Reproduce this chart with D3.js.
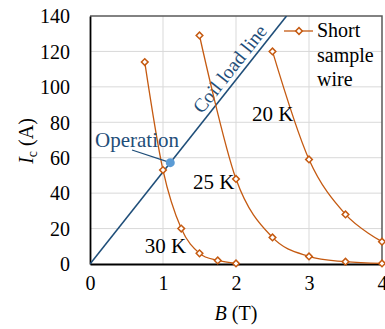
<!DOCTYPE html>
<html><head><meta charset="utf-8">
<script src="https://cdn.jsdelivr.net/npm/d3@7"></script>
<style>
html,body{margin:0;padding:0;background:#fff;}
svg text{font-family:"Liberation Serif","Tinos","Times New Roman","DejaVu Serif","Noto Serif",serif !important;}
</style></head>
<body><svg id="c" width="385" height="329"></svg>
<script>
// Data
const b30 = [0.75, 1.0, 1.25, 1.5, 1.75, 2.0];
const ic30 = [114, 53, 20, 6, 2, 0.3];
const b25 = [1.5, 2.0, 2.5, 3.0, 3.5, 4.0];
const ic25 = [129, 48, 15, 4.3, 1.3, 0.3];
const b20 = [2.5, 3.0, 3.5, 4.0];
const ic20 = [120, 59, 28, 12.6];
const loadSlope = 52;           // A per T
const operationB = 1.1, operationI = 57.2;
const xTicks = [0, 1, 2, 3, 4];
const yTicks = [0, 20, 40, 60, 80, 100, 120, 140];
const tempLabels = [{t:"20 K", b:2.22, i:81}, {t:"25 K", b:1.41, i:42.5}, {t:"30 K", b:0.75, i:6}];

const FONT = '"Liberation Serif","Tinos","Times New Roman","DejaVu Serif","Noto Serif",serif';
const svg = d3.select("#c");
const L = 90, R = 382, T = 16, B = 264;
const x = d3.scaleLinear().domain([0, 4]).range([L, R]);
const y = d3.scaleLinear().domain([0, 140]).range([B, T]);
const orange = "#C55A11", navy = "#1F4E79";

// gridlines
svg.append("g").selectAll("line").data(xTicks.slice(1, -1)).join("line")
  .attr("x1", d => x(d)).attr("x2", d => x(d)).attr("y1", T).attr("y2", B)
  .attr("stroke", "#D9D9D9").attr("stroke-width", 1);
svg.append("g").selectAll("line").data(yTicks.slice(1, -1)).join("line")
  .attr("x1", L).attr("x2", R).attr("y1", d => y(d)).attr("y2", d => y(d))
  .attr("stroke", "#D9D9D9").attr("stroke-width", 1);

// border top/right
svg.append("path").attr("d", `M${L},${T}H${R}V${B}`).attr("fill", "none")
  .attr("stroke", "#595959").attr("stroke-width", 1.5);

// axes
const xAxis = svg.append("g").attr("transform", `translate(0,${B})`)
  .call(d3.axisBottom(x).tickValues(xTicks).tickSize(0).tickPadding(12).tickFormat(d3.format("d")));
const yAxis = svg.append("g").attr("transform", `translate(${L},0)`)
  .call(d3.axisLeft(y).tickValues(yTicks).tickSize(0).tickPadding(20).tickFormat(d3.format("d")));
[xAxis, yAxis].forEach(a => {
  a.attr("font-family", FONT);
  a.select(".domain").attr("stroke", "#000").attr("stroke-width", 1.8);
  a.selectAll("text").attr("font-size", 20).attr("fill", "#000").attr("font-family", FONT);
});
xAxis.selectAll("text").attr("dy", "0.71em");
yAxis.selectAll("text").attr("dy", "0.34em");

// clip
svg.append("clipPath").attr("id", "clip").append("rect")
  .attr("x", L).attr("y", T).attr("width", R - L).attr("height", B - T);

// load line
const bMax = 140 / loadSlope;
svg.append("line").attr("clip-path", "url(#clip)")
  .attr("x1", x(0)).attr("y1", y(0)).attr("x2", x(bMax)).attr("y2", y(loadSlope * bMax))
  .attr("stroke", navy).attr("stroke-width", 1.6);
const ang = Math.atan2(y(0) - y(loadSlope), x(1) - x(0)) * 180 / Math.PI;
const lb = 2.04;
svg.append("text").attr("transform", `translate(${x(lb)},${y(loadSlope * lb)}) rotate(${-ang})`)
  .attr("dy", -5).attr("text-anchor", "middle").attr("font-size", 19.5).attr("fill", navy)
  .attr("font-family", FONT).text("Coil load line");

// series
const series = [[b30, ic30], [b25, ic25], [b20, ic20]];
const line = d3.line().x(d => x(d[0])).y(d => y(d[1])).curve(d3.curveCardinal.tension(0));
series.forEach(([bs, is]) => {
  const pts = bs.map((b, k) => [b, is[k]]);
  svg.append("path").datum(pts).attr("d", line).attr("fill", "none")
    .attr("stroke", orange).attr("stroke-width", 1.3);
  svg.append("g").selectAll("path").data(pts).join("path")
    .attr("d", d3.symbol().type(d3.symbolSquare).size(22))
    .attr("transform", d => `translate(${x(d[0])},${y(d[1])}) rotate(45)`)
    .attr("fill", "#fff").attr("stroke", orange).attr("stroke-width", 1.5);
});

// temp labels
svg.append("g").selectAll("text").data(tempLabels).join("text")
  .attr("x", d => x(d.b)).attr("y", d => y(d.i)).attr("font-size", 21).attr("fill", "#000")
  .attr("font-family", FONT).text(d => d.t);

// operation
svg.append("line").attr("x1", 132).attr("y1", 150)
  .attr("x2", x(operationB)).attr("y2", y(operationI)).attr("stroke", navy).attr("stroke-width", 1.2);
svg.append("circle").attr("cx", x(operationB)).attr("cy", y(operationI)).attr("r", 4.5)
  .attr("fill", "#5B9BD5");
svg.append("text").attr("x", 95).attr("y", 147).attr("font-size", 21).attr("fill", navy)
  .attr("font-family", FONT).text("Operation");

// legend
const lg = svg.append("g");
lg.append("line").attr("x1", 284).attr("x2", 313).attr("y1", 31).attr("y2", 31)
  .attr("stroke", orange).attr("stroke-width", 1.3);
lg.append("path").attr("d", d3.symbol().type(d3.symbolSquare).size(22))
  .attr("transform", "translate(299,31) rotate(45)")
  .attr("fill", "#fff").attr("stroke", orange).attr("stroke-width", 1.5);
const lt = lg.append("text").attr("x", 317).attr("y", 37).attr("font-size", 20).attr("fill", "#000")
  .attr("font-family", FONT);
["Short", "sample", "wire"].forEach((s, k) => lt.append("tspan").attr("x", 317).attr("dy", k ? 24.5 : 0).text(s));

// axis titles
svg.append("text").attr("x", x(2)).attr("y", 320).attr("text-anchor", "middle").attr("font-size", 20)
  .attr("font-family", FONT)
  .html('<tspan font-style="italic">B</tspan> (T)');
svg.append("text").attr("transform", "translate(33,141) rotate(-90)").attr("text-anchor", "middle")
  .attr("font-size", 20).attr("font-family", FONT)
  .html('<tspan font-style="italic">I</tspan><tspan font-size="14" dy="4">c</tspan><tspan dy="-4"> (A)</tspan>');
</script></body></html>
